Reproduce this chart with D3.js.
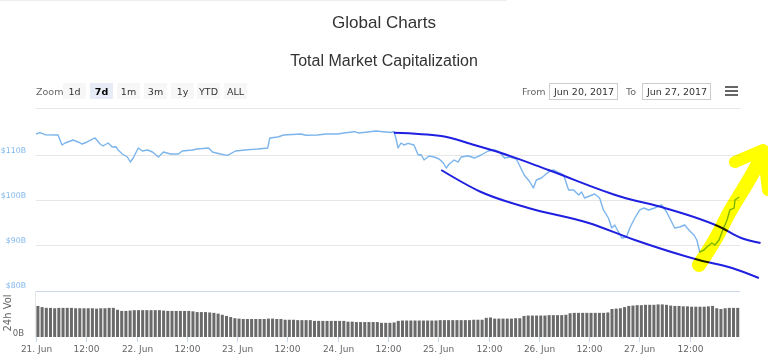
<!DOCTYPE html>
<html><head><meta charset="utf-8">
<script src="https://cdn.jsdelivr.net/npm/d3@7"></script>
<style>
body{margin:0;background:#fff;}
svg{display:block;}
</style></head>
<body>
<svg id="c" width="768" height="364"></svg>
<script>
// ---- data ----
const chartTitle = "Global Charts";
const chartSubtitle = "Total Market Capitalization";
const zoomButtons = ["1d","7d","1m","3m","1y","YTD","ALL"];
const selectedZoom = "7d";
const fromDate = "Jun 20, 2017";
const toDate = "Jun 27, 2017";
const priceTicks = [80, 90, 100, 110];
const priceTickLabels = ["$80B","$90B","$100B","$110B"];
// hours after 21 Jun 2017 00:00 (UTC)
const priceHours = [0,0.96,2.15,5.26,6.22,6.94,8.85,10.05,11.0,12.2,14.1,15.3,16.0,17.2,18.2,19.1,19.6,20.6,21.8,22.5,23.2,24.4,25.4,26.6,27.8,29.2,30.4,32.1,34.0,34.9,37.3,38.5,41.2,42.1,44.0,45.7,47.6,50.5,52.9,55.3,55.8,57.7,59.1,63.2,64.4,67.2,69.2,72.0,73.5,75.9,77.1,81.1,84.7,85.4,85.9,86.4,87.1,87.8,88.8,90.2,91.2,91.9,92.6,93.8,95.0,96.2,97.2,97.9,98.6,99.8,100.7,101.5,103.1,104.6,106.2,107.9,109.4,110.6,111.8,113.0,114.6,115.1,116.5,117.7,118.7,119.4,120.6,122.3,123.5,124.9,125.9,127.1,128.3,129.5,130.2,130.9,132.1,133.3,134.5,135.4,136.6,137.4,138.1,139.0,139.8,140.9,141.7,142.9,144.1,145.0,146.2,147.6,149.3,150.5,151.7,152.4,153.6,154.8,155.8,157.0,157.7,158.4,159.4,160.1,161.3,162.0,163.0,163.7,164.9,165.6,166.6,166.8,167.8];
// total market cap, $B
const priceValues = [114.67,114.96,114.51,114.44,112.22,112.67,113.33,112.89,112.44,112.89,113.78,112.44,112.0,112.67,111.78,111.84,111.11,110.22,109.56,108.44,109.33,111.56,110.89,111.11,110.67,109.56,110.67,110.22,110.22,110.89,111.11,111.33,111.56,110.67,110.22,109.93,110.89,111.18,111.33,111.56,113.78,114.0,114.44,114.67,114.38,114.44,114.67,114.67,114.89,115.18,114.89,115.33,115.0,115.22,113.71,111.56,112.67,112.22,112.6,112.22,110.0,110.07,108.89,109.78,109.56,109.11,108.22,107.11,108.0,108.89,108.44,109.56,109.84,109.33,110.0,110.89,111.11,110.67,109.33,109.56,109.11,108.22,105.56,104.22,102.67,104.44,104.89,106.22,106.67,106.0,105.56,102.22,102.22,101.11,101.78,100.44,100.89,101.33,100.44,97.78,96.0,93.78,94.44,92.89,91.56,91.78,93.78,96.0,97.78,98.22,97.78,98.22,98.89,97.33,95.11,93.78,94.0,94.44,93.33,92.22,91.11,88.44,88.89,89.56,90.44,90.0,91.11,92.89,95.56,97.78,98.22,100.0,100.67];
// hourly 24h volume, $B (one bar per hour from 21 Jun 00:00)
const volumeValues = [8.1,7.8,
 7.6,7.6,7.5,7.6,7.6,7.6,7.6,7.5,7.5,7.5,7.5,7.5,7.4,7.5,7.5,7.6,
 7.6,7.1,
 6.8,6.8,6.9,7.0,7.0,
 7.0,7.0,7.0,7.0,7.0,6.9,
 6.8,6.8,6.8,6.8,6.8,6.8,6.7,
 6.5,6.5,6.5,6.4,6.3,
 6.1,5.8,5.5,
 5.2,4.9,4.8,
 4.7,4.7,4.7,4.7,4.7,4.7,4.8,4.8,4.7,4.7,
 4.5,4.5,4.5,4.4,4.4,4.4,4.4,
 4.2,4.2,4.2,4.2,4.2,4.2,4.2,4.2,
 4.0,4.0,3.9,3.9,3.9,3.9,3.9,3.9,
 3.7,3.7,3.7,3.8,
 4.2,4.3,4.3,4.3,4.3,4.3,4.3,4.3,4.3,4.3,
 4.4,4.4,4.4,4.4,4.4,4.4,4.4,4.4,4.5,4.5,4.5,
 5.0,5.1,
 4.8,4.8,4.8,4.8,4.8,4.9,4.9,
 5.5,5.6,5.6,5.6,5.6,5.6,
 5.7,5.7,5.7,5.7,5.8,
 6.2,6.3,6.3,6.3,6.3,6.3,6.3,6.3,
 6.3,6.4,7.3,
 7.4,7.5,7.8,8.1,
 8.2,8.3,8.3,8.4,8.4,8.4,8.5,8.5,8.4,
 8.2,8.1,8.1,
 8.0,8.0,7.9,7.9,7.9,7.9,8.0,8.1,
 7.5,7.3,
 7.5,7.6,7.6,7.6];
// hand-drawn annotations (hours, $B)
const upperTrendHours = [85.4,96.7,104.6,111.0,122.3,139.8,150.0,163.7,168.3,172.9];
const upperTrendValues = [114.96,114.22,112.22,110.44,106.67,100.67,98.22,93.78,91.56,90.44];
const lowerTrendHours = [96.7,106.2,117.5,131.9,142.9,158.2,166.1,172.5];
const lowerTrendValues = [106.67,101.78,98.22,94.89,91.11,86.67,84.89,82.67];
const arrowBodyHours = [158.2,162.0,165.4,170.1,172.1];
const arrowBodyValues = [85.56,91.11,97.11,104.44,107.78];
const arrowHeadHours = [166.8,173.5,174.7];
const arrowHeadValues = [108.44,111.11,102.22];

// ---- drawing ----
const svg = d3.select("#c");
const t0 = Date.UTC(2017,5,21);
const H = 3600e3;
const x = d3.scaleUtc().domain([new Date(t0), new Date(t0 + 168*H)]).range([36, 740]);
const y = d3.scaleLinear().domain([80, 120]).range([290, 110]);
const yv = d3.scaleLinear().domain([0, 12]).range([337, 291]);
const hx = h => x(new Date(t0 + h*H));

svg.append("line").attr("x1",0).attr("x2",507).attr("y1",0.5).attr("y2",0.5).attr("stroke","#eee");

svg.append("text").attr("x",384).attr("y",28).attr("text-anchor","middle")
  .attr("font-family","Liberation Sans, Arial, sans-serif").attr("font-size",17).attr("fill","#333").text(chartTitle);
svg.append("text").attr("x",384).attr("y",66).attr("text-anchor","middle")
  .attr("font-family","Liberation Sans, Arial, sans-serif").attr("font-size",16).attr("fill","#333").text(chartSubtitle);

// range selector
const uiFont = "DejaVu Sans, Verdana, sans-serif";
svg.append("text").attr("x",36).attr("y",95).attr("font-family",uiFont).attr("font-size",9.5).attr("fill","#666").text("Zoom");
const btnX = [63,90,117,144,171,197,224];
zoomButtons.forEach((b,i)=>{
  const sel = b===selectedZoom;
  svg.append("rect").attr("x",btnX[i]).attr("y",83).attr("width",23).attr("height",16)
    .attr("fill", sel ? "#e6ebf5" : "#f7f7f7");
  svg.append("text").attr("x",btnX[i]+11.5).attr("y",95).attr("text-anchor","middle")
    .attr("font-family",uiFont).attr("font-size",9.5).attr("font-weight",sel?"bold":"normal")
    .attr("fill", sel ? "#000" : "#333").text(b);
});
svg.append("text").attr("x",522).attr("y",95).attr("font-family",uiFont).attr("font-size",9.5).attr("fill","#666").text("From");
svg.append("rect").attr("x",549.5).attr("y",83.5).attr("width",68).attr("height",16).attr("fill","#fff").attr("stroke","#ccc");
svg.append("text").attr("x",554).attr("y",95).attr("font-family",uiFont).attr("font-size",9.5).attr("fill","#333").text(fromDate);
svg.append("text").attr("x",626).attr("y",95).attr("font-family",uiFont).attr("font-size",9.5).attr("fill","#666").text("To");
svg.append("rect").attr("x",642.5).attr("y",83.5).attr("width",68).attr("height",16).attr("fill","#fff").attr("stroke","#ccc");
svg.append("text").attr("x",647).attr("y",95).attr("font-family",uiFont).attr("font-size",9.5).attr("fill","#333").text(toDate);
[87,91,95].forEach(yy=>svg.append("rect").attr("x",725).attr("y",yy-1).attr("width",13).attr("height",2).attr("fill","#666"));

svg.append("line").attr("x1",36).attr("x2",740).attr("y1",108.5).attr("y2",108.5).attr("stroke","#e6e6e6");

// price gridlines + labels
priceTicks.forEach((v,i)=>{
  if (v !== 80) svg.append("line").attr("x1",36).attr("x2",740).attr("y1",Math.round(y(v))+0.5).attr("y2",Math.round(y(v))+0.5).attr("stroke","#e6e6e6");
  svg.append("text").attr("x",26).attr("y",y(v)-2).attr("text-anchor","end")
    .attr("font-family",uiFont).attr("font-size",7.8).attr("fill","#7cb5ec").text(priceTickLabels[i]);
});

// volume panel
svg.append("line").attr("x1",36).attr("x2",740).attr("y1",291.5).attr("y2",291.5).attr("stroke","#ccd6eb");
svg.append("line").attr("x1",35.5).attr("x2",35.5).attr("y1",291).attr("y2",337).attr("stroke","#e6e6e6");
const step = x(new Date(t0+H)) - x(new Date(t0));
svg.append("g").selectAll("rect").data(volumeValues).join("rect")
  .attr("x",(d,i)=>hx(i)+0.4).attr("width",step*0.72)
  .attr("y",d=>yv(d)).attr("height",d=>yv(0)-yv(d)).attr("fill","#6a6a6a");
svg.append("text").attr("x",24).attr("y",336).attr("text-anchor","end").attr("font-family",uiFont).attr("font-size",8.5).attr("fill","#666").text("0B");
svg.append("text").attr("transform","translate(11,313) rotate(-90)").attr("text-anchor","middle")
  .attr("font-family",uiFont).attr("font-size",10).attr("fill","#666").text("24h Vol");

// x axis
const ticks = d3.range(0, 14).map(k => new Date(t0 + k*12*H));
const fmtDay = d3.utcFormat("%-d. %b");
const xa = svg.append("g");
ticks.forEach(tk=>{
  const px = Math.round(x(tk))+0.5;
  xa.append("line").attr("x1",px).attr("x2",px).attr("y1",337).attr("y2",342).attr("stroke","#ccd6eb");
  xa.append("text").attr("x",px).attr("y",352).attr("text-anchor","middle")
    .attr("font-family",uiFont).attr("font-size",9).attr("fill","#666")
    .text(tk.getUTCHours()===0 ? fmtDay(tk) : "12:00");
});

// price line
const line = d3.line().x(d=>hx(d[0])).y(d=>y(d[1]));
svg.append("path").datum(d3.zip(priceHours, priceValues)).attr("d",line)
  .attr("fill","none").attr("stroke","#7cb5ec").attr("stroke-width",1.4).attr("stroke-linejoin","round");

// annotations
const curve = d3.line().x(d=>hx(d[0])).y(d=>y(d[1])).curve(d3.curveMonotoneX);
svg.append("path").datum(d3.zip(upperTrendHours, upperTrendValues)).attr("d",curve)
  .attr("fill","none").attr("stroke","#1f1fe0").attr("stroke-width",2);
svg.append("path").datum(d3.zip(lowerTrendHours, lowerTrendValues)).attr("d",curve)
  .attr("fill","none").attr("stroke","#1f1fe0").attr("stroke-width",2);
svg.append("path").datum(d3.zip(arrowBodyHours, arrowBodyValues)).attr("d",curve)
  .attr("fill","none").attr("stroke","#ffff00").attr("stroke-width",14).attr("stroke-linecap","round")
  .style("mix-blend-mode","multiply");
svg.append("path").datum(d3.zip(arrowHeadHours, arrowHeadValues)).attr("d",line)
  .attr("fill","none").attr("stroke","#ffff00").attr("stroke-width",12).attr("stroke-linejoin","round").attr("stroke-linecap","round")
  .style("mix-blend-mode","multiply");
</script>
</body></html>
